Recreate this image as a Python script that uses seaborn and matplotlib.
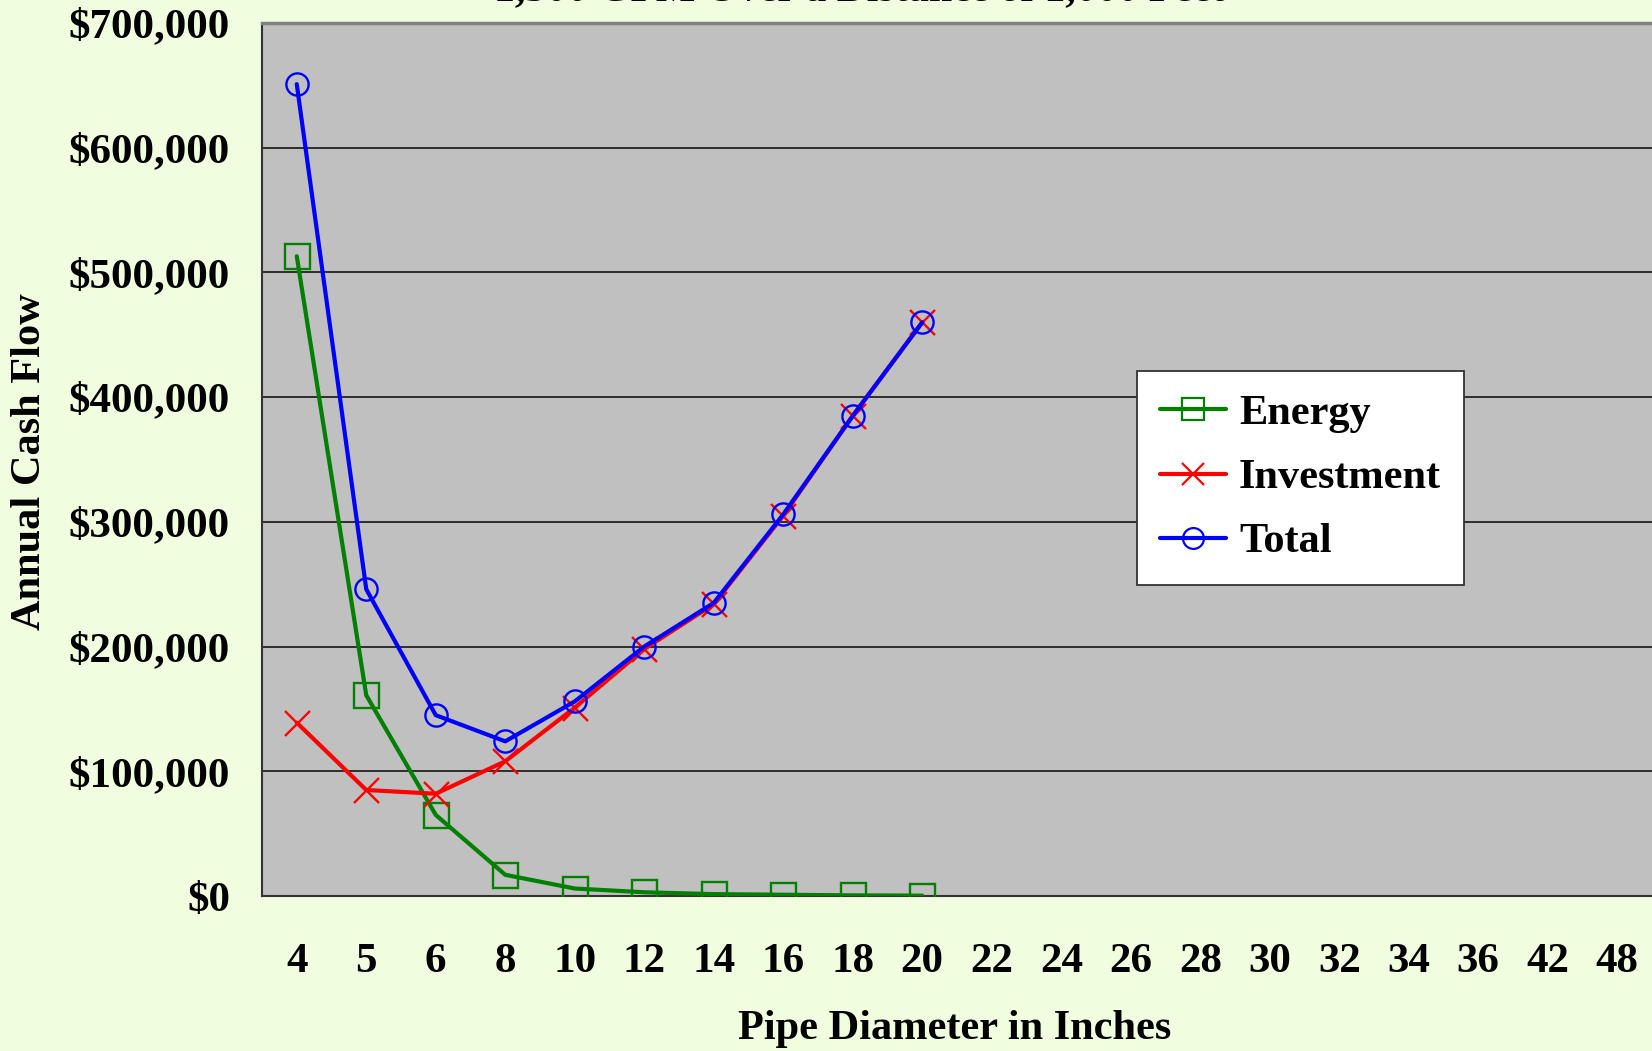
import matplotlib
matplotlib.use("Agg")
import matplotlib.pyplot as plt
import seaborn as sns
import pandas as pd
import numpy as np
from matplotlib.lines import Line2D
from matplotlib.ticker import FuncFormatter

diameters = ["4", "5", "6", "8", "10", "12", "14", "16", "18", "20", "22", "24",
             "26", "28", "30", "32", "34", "36", "42", "48"]
energy = [513000, 161000, 65000, 17000, 6000, 3000, 1500, 1000, 500, 300]
investment = [139000, 85000, 82000, 108000, 151000, 198000, 234000, 305000, 385000, 460000]
total = [651000, 246000, 145000, 124000, 156000, 200000, 235000, 306000, 385000, 460000]
series_names = ["Energy", "Investment", "Total"]

colors = {"Energy": "#008000", "Investment": "#FF0000", "Total": "#0000FF"}
markers = {"Energy": "s", "Investment": "x", "Total": "o"}

rows = []
for name, vals in zip(series_names, [energy, investment, total]):
    for i, v in enumerate(vals):
        rows.append({"pos": i, "value": v, "series": name})
df = pd.DataFrame(rows)

sns.set_theme(style="white")
plt.rcParams["font.family"] = ["Liberation Serif", "DejaVu Serif"]
plt.rcParams["font.weight"] = "bold"
plt.rcParams["text.color"] = "black"
plt.rcParams["axes.labelcolor"] = "black"
plt.rcParams["xtick.color"] = "black"
plt.rcParams["ytick.color"] = "black"

fig = plt.figure(figsize=(16.52, 10.51), dpi=100)
fig.patch.set_facecolor("#F0FEDF")
ax = fig.add_axes([262 / 1652, 1 - 896 / 1051, 1 - 262 / 1652, (896 - 23) / 1051])
ax.set_facecolor("#C0C0C0")

for name in series_names:
    sub = df[df["series"] == name]
    sns.lineplot(data=sub, x="pos", y="value", ax=ax, color=colors[name],
                 linewidth=3.0, marker=markers[name], markersize=18 if name != "Total" else 16,
                 markerfacecolor="none", markeredgecolor=colors[name],
                 markeredgewidth=1.7, legend=False, zorder=3)

ax.set_xlim(-0.5, len(diameters) - 0.5)
ax.set_ylim(0, 700000)
ax.set_yticks(np.arange(0, 700001, 100000))
ax.yaxis.set_major_formatter(FuncFormatter(lambda v, p: "${:,.0f}".format(v)))
ax.set_xticks(np.arange(len(diameters)))
ax.set_xticklabels(diameters)
ax.set_xticks(np.arange(-0.5, len(diameters), 1), minor=True)
ax.tick_params(axis="x", which="major", length=0, pad=34, labelsize=31, labelcolor="black")
ax.tick_params(axis="x", which="minor", length=10, width=1.2, color="#333333", direction="out")
ax.tick_params(axis="y", which="major", length=9.5, width=1.2, color="#333333",
               direction="out", pad=13.5, labelsize=31, labelcolor="black")
for lbl in ax.get_xticklabels() + ax.get_yticklabels():
    lbl.set_fontweight("bold")

ax.grid(axis="y", color="#222222", linewidth=1.3)
ax.grid(axis="x", visible=False)
ax.set_axisbelow(True)
for s in ["left", "bottom"]:
    ax.spines[s].set_color("#333333")
    ax.spines[s].set_linewidth(1.5)
ax.spines["top"].set_color("#808080")
ax.spines["top"].set_linewidth(2.5)
ax.spines["right"].set_visible(False)

ax.set_xlabel("Pipe Diameter in Inches", fontsize=30.5, fontweight="bold", color="black")
ax.xaxis.set_label_coords(0.4986, -0.152)
ax.xaxis.label.set_va("center")
ax.set_ylabel("Annual Cash Flow", fontsize=30.5, fontweight="bold", color="black")
ax.yaxis.set_label_coords(-0.167, 0.498)
ax.yaxis.label.set_va("center")

handles = [Line2D([0], [0], color=colors[n], lw=3.0, marker=markers[n],
                  markersize=16 if n != "Total" else 15, markerfacecolor="none",
                  markeredgecolor=colors[n], markeredgewidth=1.6) for n in series_names]
leg = ax.legend(handles, series_names, loc="upper left",
                bbox_to_anchor=(0.6295, 0.601), borderaxespad=0,
                prop={"size": 30.5, "weight": "bold"}, frameon=True, fancybox=False,
                framealpha=1.0, handlelength=1.56, handletextpad=0.3,
                labelspacing=0.6, borderpad=0.55)
leg.get_frame().set_facecolor("white")
leg.get_frame().set_edgecolor("#333333")
leg.get_frame().set_linewidth(1.3)
leg.set_zorder(5)
for t in leg.get_texts():
    t.set_color("black")

fig.text(0.52, 1.0, "1,500 GPM Over a Distance of 1,000 Feet",
         ha="center", va="baseline", fontsize=30, fontweight="bold", color="black")

fig.savefig("out.png", dpi=100, facecolor=fig.get_facecolor())
